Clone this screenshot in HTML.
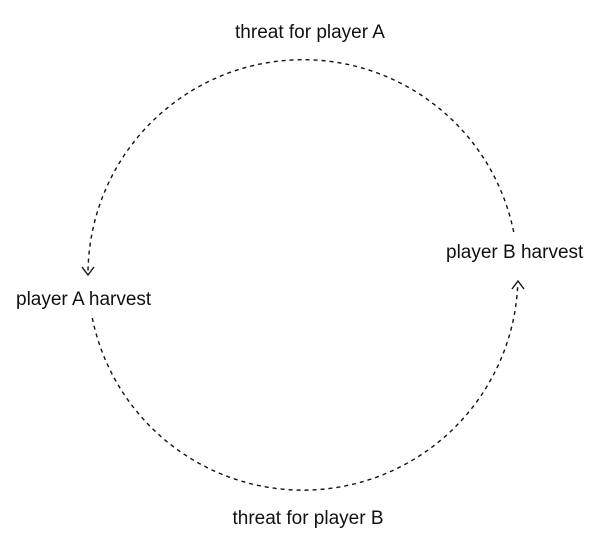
<!DOCTYPE html>
<html><head><style>body{margin:0;background:#fff}svg{display:block}text{font-family:"Liberation Sans",sans-serif;font-size:19px;fill:#111}</style></head>
<body><svg width="600" height="536" viewBox="0 0 600 536">
<g fill="none" stroke="#111" stroke-width="1.4" stroke-dasharray="4 4">
<path d="M513.7 232 A215 215 0 0 0 88 272"/>
<path d="M92.3 318 A215 215 0 0 0 517.8 284"/>
</g>
<g fill="none" stroke="#111" stroke-width="1.4">
<path d="M82 267 L88 275 L94 267"/>
<path d="M512 289 L518 281 L524 289"/>
</g>
<text x="310" y="38" text-anchor="middle">threat for player A</text>
<text x="308" y="524" text-anchor="middle">threat for player B</text>
<text x="16" y="305">player A harvest</text>
<text x="446" y="258">player B harvest</text>
</svg></body></html>
